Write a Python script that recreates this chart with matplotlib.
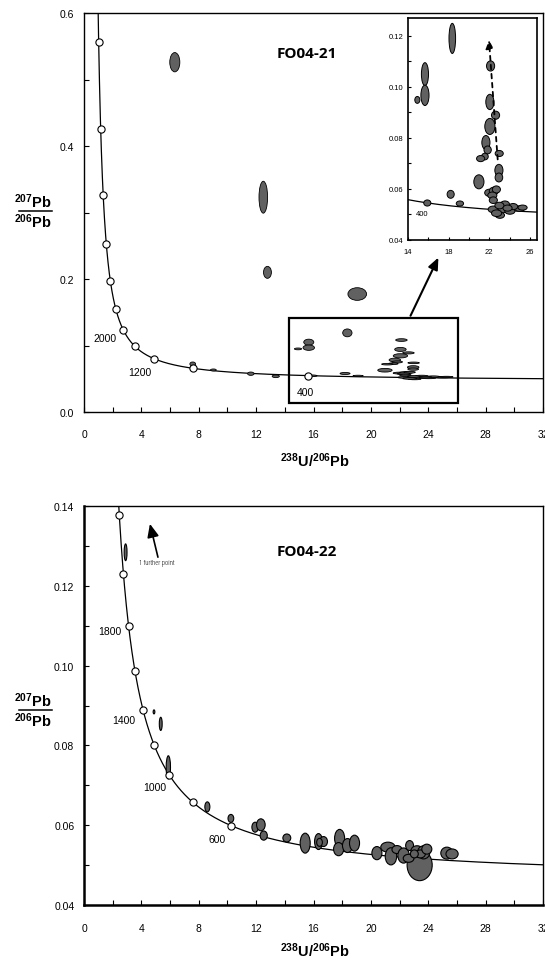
import numpy as np
import matplotlib
matplotlib.use("Agg")
import matplotlib.pyplot as plt
from matplotlib.patches import Ellipse, Rectangle
from matplotlib.lines import Line2D

plt.rcParams['font.family'] = ['Liberation Sans', 'DejaVu Sans']
plt.rcParams['mathtext.fontset'] = 'custom'
plt.rcParams['mathtext.rm'] = 'Liberation Sans:bold'
plt.rcParams['mathtext.bf'] = 'Liberation Sans:bold'
plt.rcParams['mathtext.default'] = 'rm'

# Decay constants (per year) and present-day 238U/235U
L238 = 1.55125e-10
L235 = 9.8485e-10
U_RATIO = 137.88

# ---- FO04-21: ellipse centres and full widths/heights (data units) ----
s21_x = [6.33, 12.5, 12.79, 19.05, 7.58, 9.02, 11.63, 13.37,
         18.36, 15.67, 15.67, 14.92, 22.13, 22.06, 22.62, 22.06, 21.67, 21.84,
         21.57, 21.15, 22.98, 22.95, 22.95, 20.98, 18.2, 19.11, 15.9,
         22.0, 22.45, 22.7, 22.3, 22.4,
         22.39, 23.37, 23.54, 24.03, 25.0, 25.28, 23.05, 22.72, 24.35, 23.0, 23.8]
s21_y = [0.526, 0.323, 0.210, 0.1774, 0.0722, 0.0632, 0.0576, 0.0537,
         0.119, 0.105, 0.0967, 0.0949, 0.1082, 0.0941, 0.0889, 0.0845, 0.0782, 0.0753,
         0.0727, 0.0719, 0.0739, 0.0673, 0.0645, 0.0628, 0.0579, 0.0543, 0.0545,
         0.0585, 0.0592, 0.0598, 0.0575, 0.0556,
         0.0520, 0.0520, 0.0540, 0.0513, 0.0523, 0.0527, 0.0497, 0.0505, 0.0531, 0.0535, 0.0525]
s21_w = [0.7, 0.6, 0.55, 1.3, 0.4, 0.4, 0.45, 0.5,
         0.65, 0.7, 0.8, 0.5, 0.8, 0.8, 0.8, 1.0, 0.8, 0.72,
         0.66, 0.8, 0.8, 0.8, 0.75, 1.0, 0.7, 0.72, 0.7,
         0.9, 0.9, 0.8, 0.9, 0.8,
         1.0, 1.0, 0.9, 1.0, 1.0, 0.9, 0.9, 1.0, 0.9, 0.9, 0.9]
s21_h = [0.029, 0.048, 0.018, 0.019, 0.006, 0.003, 0.005, 0.004,
         0.0118, 0.009, 0.008, 0.0027, 0.004, 0.006, 0.0032, 0.0063, 0.0055, 0.0031,
         0.0026, 0.0024, 0.0024, 0.0047, 0.0035, 0.0055, 0.0031, 0.002, 0.0024,
         0.0028, 0.003, 0.0028, 0.0026, 0.0026,
         0.0026, 0.0026, 0.0026, 0.0024, 0.0022, 0.002, 0.0024, 0.0026, 0.0024, 0.0026, 0.0024]

# ---- FO04-22 ----
s22_x = [2.9, 4.88, 5.35, 5.88, 8.6, 10.24, 11.93, 12.33, 12.53,
         14.14, 15.42, 16.35, 16.7, 16.42, 17.82, 17.75, 18.37, 18.86,
         20.42, 21.19, 21.4, 21.82, 22.28, 22.7, 23.4, 23.22, 23.68, 22.63,
         23.45, 23.03, 23.9, 25.3, 25.66]
s22_y = [0.1284, 0.0884, 0.0854, 0.0745, 0.0646, 0.0617, 0.0595, 0.0601, 0.0574,
         0.0568, 0.0555, 0.0559, 0.0559, 0.0557, 0.0567, 0.0540, 0.0549, 0.0555,
         0.0530, 0.0545, 0.0522, 0.0539, 0.0524, 0.0549, 0.0500, 0.0536, 0.0532, 0.0517,
         0.0528, 0.0528, 0.0540, 0.0530, 0.0528]
s22_w = [0.2, 0.12, 0.2, 0.3, 0.35, 0.4, 0.45, 0.6, 0.5,
         0.55, 0.7, 0.55, 0.55, 0.4, 0.7, 0.7, 0.7, 0.7,
         0.7, 1.0, 0.8, 0.7, 0.8, 0.55, 1.75, 0.85, 0.85, 0.75,
         0.7, 0.55, 0.7, 0.85, 0.85]
s22_h = [0.0042, 0.001, 0.0033, 0.0058, 0.0025, 0.002, 0.0025, 0.003, 0.0023,
         0.002, 0.005, 0.004, 0.0025, 0.002, 0.0045, 0.0033, 0.0035, 0.004,
         0.0033, 0.0025, 0.0043, 0.002, 0.0038, 0.0025, 0.0078, 0.0025, 0.0033, 0.002,
         0.002, 0.002, 0.0025, 0.003, 0.0025]

# Concordia age marks (Ma) and their labels
ages_top = [400, 800, 1200, 1600, 2000, 2400, 2800, 3200, 3600, 4000, 4400]
ages_bot = [600, 800, 1000, 1200, 1400, 1600, 1800, 2000, 2200]
labels_top = {"2000": (1.47, 0.111), "1200": (3.86, 0.0597), "400": (15.42, 0.0305)}
labels_bot = {"1800": (1.82, 0.1087), "1400": (2.74, 0.0864), "1000": (4.95, 0.0695), "600": (9.26, 0.0565)}

FILL = '#616161'


def tw(t_ma):
    t = np.asarray(t_ma, dtype=float) * 1e6
    e8 = np.exp(L238 * t) - 1
    e5 = np.exp(L235 * t) - 1
    return 1.0 / e8, e5 / e8 / U_RATIO


def concordia(ax, ages, ms=5.2):
    t = np.linspace(150, 4700, 3000)
    cx, cy = tw(t)
    ax.plot(cx, cy, color='black', lw=0.9, zorder=2)
    if ages:
        mx, my = tw(ages)
        ax.plot(mx, my, 'o', ms=ms, mfc='white', mec='black', mew=0.8, zorder=4)


def ellipses(ax, xs, ys, ws, hs, lw=0.7):
    for x, y, w, h in zip(xs, ys, ws, hs):
        ax.add_patch(Ellipse((x, y), w, h, facecolor=FILL, edgecolor='black',
                             lw=lw, zorder=3))


def style_axes(ax, spine_lw=1.0):
    for s in ax.spines.values():
        s.set_linewidth(spine_lw)
    ax.tick_params(which='both', direction='in', labelsize=7.5, colors='black',
                   width=0.8)
    ax.tick_params(which='major', length=3.5)
    ax.tick_params(which='minor', length=3.5)


fig = plt.figure(figsize=(5.45, 9.62), dpi=100)
W, H = 545.0, 962.0


def fax(l, t, r, b):
    return fig.add_axes([l / W, 1 - b / H, (r - l) / W, (b - t) / H])


# ---------------- FO04-21 ----------------
ax1 = fax(84, 14, 543, 413)
concordia(ax1, ages_top)
ellipses(ax1, s21_x, s21_y, s21_w, s21_h, lw=0.6)
ax1.set_xlim(0, 32)
ax1.set_ylim(0, 0.6)
ax1.set_xticks(np.arange(0, 33, 4))
ax1.set_xticks(np.arange(2, 32, 4), minor=True)
ax1.set_yticks([0.0, 0.2, 0.4, 0.6])
ax1.set_yticks([0.1, 0.3, 0.5], minor=True)
ax1.set_xticklabels([str(v) for v in range(0, 33, 4)])
ax1.set_yticklabels(['0.0', '0.2', '0.4', '0.6'])
style_axes(ax1)
ax1.tick_params(axis='x', pad=12)
ax1.tick_params(axis='y', pad=7)
for k, (x, y) in labels_top.items():
    ax1.text(x, y, k, fontsize=7.5, ha='center', va='center')
ax1.text(13.45, 0.54, 'FO04-21', fontsize=11, fontweight='bold',
         family=['Open Sans', 'DejaVu Sans'], ha='left', va='center')
ax1.add_patch(Rectangle((14.26, 0.0135), 26.07 - 14.26, 0.141 - 0.0135,
                        fill=False, edgecolor='black', lw=1.6, zorder=5))
ax1.annotate('', xy=(24.79, 0.236), xytext=(22.68, 0.141),
             arrowprops=dict(arrowstyle='-|>,head_length=0.7,head_width=0.3',
                             color='black', lw=1.5), zorder=6)

# Inset enlargement
axi = fax(408, 19, 537, 241)
concordia(axi, [])
ellipses(axi, s21_x, s21_y, s21_w, s21_h, lw=0.7)
axi.set_xlim(14, 26.7)
axi.set_ylim(0.04, 0.127)
axi.set_xticks([14, 18, 22, 26])
axi.set_xticks([16, 20, 24], minor=True)
axi.set_yticks([0.04, 0.06, 0.08, 0.10, 0.12])
axi.set_yticks([0.05, 0.07, 0.09, 0.11], minor=True)
axi.set_yticklabels(['0.04', '0.06', '0.08', '0.10', '0.12'])
style_axes(axi, spine_lw=1.2)
axi.tick_params(which='both', labelsize=5.5, length=2.5)
axi.tick_params(axis='x', pad=6)
axi.tick_params(axis='y', pad=3)
axi.text(15.35, 0.0505, '400', fontsize=5.5, ha='center', va='center')
axi.annotate('', xy=(21.95, 0.1195), xytext=(22.85, 0.0705),
             arrowprops=dict(arrowstyle='-|>,head_length=0.5,head_width=0.22',
                             color='black', lw=1.3, linestyle=(0, (2.5, 2.5))))

# ---------------- FO04-22 ----------------
ax2 = fax(84, 507, 543, 906)
concordia(ax2, ages_bot)
ellipses(ax2, s22_x, s22_y, s22_w, s22_h, lw=0.8)
ax2.set_xlim(0, 32)
ax2.set_ylim(0.04, 0.14)
ax2.set_xticks(np.arange(0, 33, 4))
ax2.set_xticks(np.arange(2, 32, 4), minor=True)
ax2.set_yticks([0.04, 0.06, 0.08, 0.10, 0.12, 0.14])
ax2.set_yticks([0.05, 0.07, 0.09, 0.11, 0.13], minor=True)
ax2.set_yticklabels(['0.04', '0.06', '0.08', '0.10', '0.12', '0.14'])
style_axes(ax2)
ax2.spines['left'].set_linewidth(1.8)
ax2.spines['bottom'].set_linewidth(1.8)
ax2.tick_params(axis='x', pad=13)
ax2.tick_params(axis='y', pad=7)
for k, (x, y) in labels_bot.items():
    ax2.text(x, y, k, fontsize=7.5, ha='center', va='center')
ax2.text(13.45, 0.1286, 'FO04-22', fontsize=11, fontweight='bold',
         family=['Open Sans', 'DejaVu Sans'], ha='left', va='center')
ax2.text(3.8, 0.1259, '1 further point', fontsize=5.5, ha='left', va='center',
         family=['Open Sans', 'DejaVu Sans'], stretch='condensed')
ax2.annotate('', xy=(4.55, 0.1362), xytext=(5.2, 0.1265),
             arrowprops=dict(arrowstyle='-|>,head_length=0.8,head_width=0.35',
                             color='black', lw=1.2))

# Axis titles: stacked ratio on the left, ratio below
for ycen in (212, 711):
    fig.text(33 / W, 1 - (ycen - 10) / H, r'$^{207}$Pb', fontsize=10.5,
             fontweight='bold', ha='center', va='center')
    fig.text(33 / W, 1 - (ycen + 10) / H, r'$^{206}$Pb', fontsize=10.5,
             fontweight='bold', ha='center', va='center')
    fig.add_artist(Line2D([19 / W, 52 / W], [1 - ycen / H, 1 - ycen / H],
                          color='black', lw=1.1))
for ycen in (461, 951):
    fig.text(315 / W, 1 - ycen / H, r'$^{238}$U/$^{206}$Pb', fontsize=10.5,
             fontweight='bold', ha='center', va='center')

fig.savefig('out.png', dpi=100)
